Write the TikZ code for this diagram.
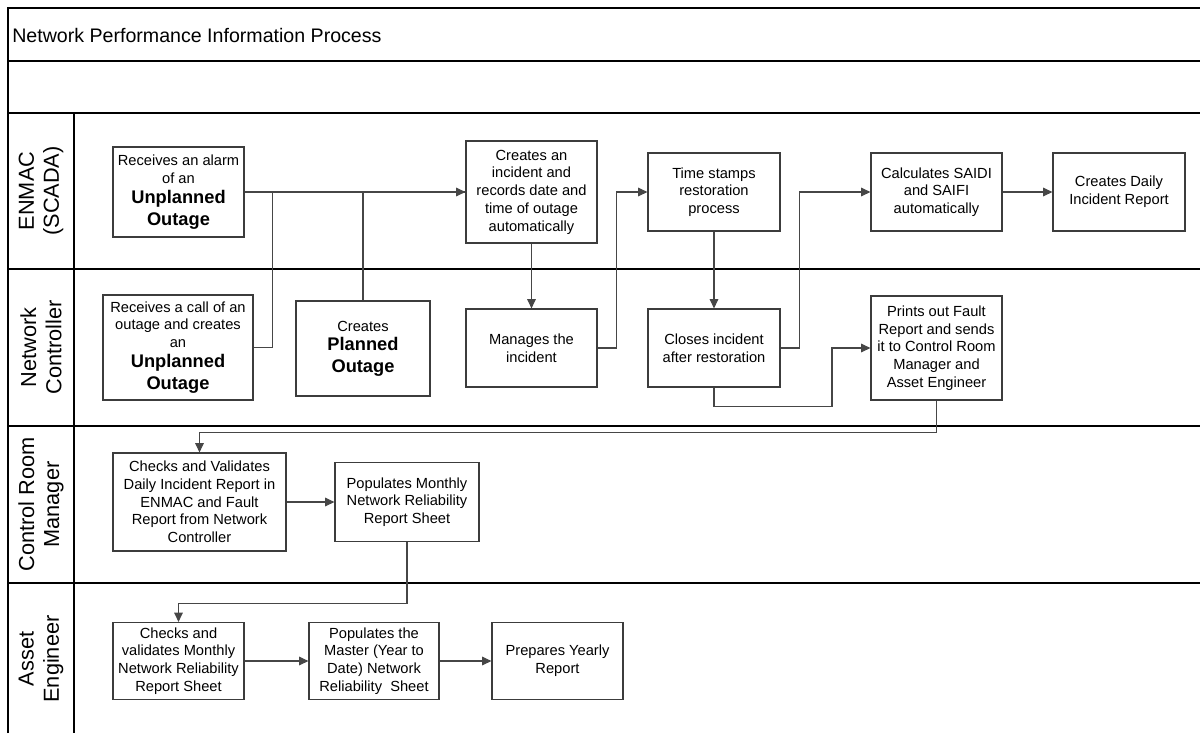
\documentclass[tikz,border=0pt]{standalone}
\usepackage{fontspec}
\setmainfont{Liberation Sans}
\usepackage{xcolor}
\usetikzlibrary{arrows.meta}

\definecolor{boxline}{RGB}{60,60,60}
\definecolor{flowline}{RGB}{70,70,70}
\newcommand{\outbold}{\bfseries\fontsize{13.7}{15.8}\selectfont}

\tikzset{
  frame/.style={draw=black, line width=1.1pt},
  procbox/.style={draw=boxline, line width=0.9pt, fill=white, align=center, inner sep=0pt,
    font=\fontsize{11}{13.3}\selectfont},
  boxdim/.style 2 args={minimum width=#1*0.75pt, minimum height=#2*0.75pt},
  lanelabel/.style={rotate=90, align=center, inner sep=0pt, font=\fontsize{16.3}{18.8}\selectfont},
  link/.style={draw=flowline, line width=0.8pt},
  flow/.style={link, -{Triangle[length=7pt,width=6.5pt]}}
}

\begin{document}
\begin{tikzpicture}[x=0.75pt,y=0.75pt,yscale=-1,xscale=1]
\useasboundingbox (0,0) rectangle (1200,733);

%Shape: Pool frame
\draw [frame] (8,733) -- (8,8) -- (1200,8) ;
\draw [frame] (8,61) -- (1200,61) ;
\draw [frame] (8,113) -- (1200,113) ;
\draw [frame] (8,269) -- (1200,269) ;
\draw [frame] (8,426) -- (1200,426) ;
\draw [frame] (8,583) -- (1200,583) ;
\draw [frame] (74,113) -- (74,733) ;

% Text Node
\node (title) [anchor=west, inner sep=0pt, font=\fontsize{14.7}{17}\selectfont] at (12,35) {Network Performance Information Process};
\node (laneEnmac) [lanelabel] at (41,191) {ENMAC\\(SCADA)};
\node (laneNc) [lanelabel] at (41,347.5) {Network\\Controller};
\node (laneCrm) [lanelabel] at (41,504.5) {Control Room\\Manager};
\node (laneAe) [lanelabel] at (41,659) {Asset\\Engineer};

%Shape: ENMAC lane
\node (enmacAlarm) [procbox, boxdim={131}{90}] at (178.5,192) {Receives an alarm\\of an\\[2pt]\outbold Unplanned\\[3pt]\outbold Outage};
\node (enmacIncident) [procbox, boxdim={131}{102}] at (531.5,192) {Creates an\\incident and\\records date and\\time of outage\\automatically};
\node (enmacStamp) [procbox, boxdim={132}{78}] at (714,192) {Time stamps\\restoration\\process};
\node (enmacCalc) [procbox, boxdim={131}{78}] at (936.5,192) {Calculates SAIDI\\and SAIFI\\automatically};
\node (enmacDaily) [procbox, boxdim={132}{78}] at (1119,192) {Creates Daily\\Incident Report};

%Shape: Network Controller lane
\node (ncCall) [procbox, boxdim={150}{105}] at (178,347.5) {Receives a call of an\\outage and creates\\an\\[2pt]\outbold Unplanned\\[3pt]\outbold Outage};
\node (ncPlanned) [procbox, boxdim={134}{95}] at (363,348.5) {Creates\\[1pt]\outbold Planned\\[3pt]\outbold Outage};
\node (ncManage) [procbox, boxdim={131}{78}] at (531.5,348) {Manages the\\incident};
\node (ncClose) [procbox, boxdim={132}{78}] at (714,348) {Closes incident\\after restoration};
\node (ncPrint) [procbox, boxdim={131}{104}] at (936.5,348) {Prints out Fault\\Report and sends\\it to Control Room\\Manager and\\Asset Engineer};

%Shape: Control Room Manager lane
\node (crmCheck) [procbox, boxdim={173}{98}] at (199.5,502) {Checks and Validates\\Daily Incident Report in\\ENMAC and Fault\\Report from Network\\Controller};
\node (crmMonthly) [procbox, boxdim={144}{79}] at (407,502) {Populates Monthly\\Network Reliability\\Report Sheet};

%Shape: Asset Engineer lane
\node (aeCheck) [procbox, boxdim={131}{77}] at (178.5,661) {Checks and\\validates Monthly\\Network Reliability\\Report Sheet};
\node (aeMaster) [procbox, boxdim={130}{77}] at (374,661) {Populates the\\Master (Year to\\Date) Network\\Reliability\ \ Sheet};
\node (aeYearly) [procbox, boxdim={131}{77}] at (557.5,661) {Prepares Yearly\\Report};

%Straight Lines
\draw [flow] (enmacAlarm.east) -- (enmacIncident.west) ;
\draw [link] (ncCall.east) -- ++(19,0) |- (enmacIncident.west) ;
\draw [link] (ncPlanned.north) |- (enmacIncident.west) ;
\draw [flow] (enmacIncident.south) -- (ncManage.north) ;
\draw [flow] (ncManage.east) -- ++(19,0) |- (enmacStamp.west) ;
\draw [flow] (enmacStamp.south) -- (ncClose.north) ;
\draw [flow] (ncClose.east) -- ++(19,0) |- (enmacCalc.west) ;
\draw [flow] (enmacCalc.east) -- (enmacDaily.west) ;
\draw [flow] (ncClose.south) |- ++(118,19) |- (ncPrint.west) ;
\draw [flow] (ncPrint.south) -- ++(0,32) -| (crmCheck.north) ;
\draw [flow] (crmCheck.east) -- (crmMonthly.west) ;
\draw [flow] (crmMonthly.south) -- ++(0,61) -| (aeCheck.north) ;
\draw [flow] (aeCheck.east) -- (aeMaster.west) ;
\draw [flow] (aeMaster.east) -- (aeYearly.west) ;

\end{tikzpicture}
\end{document}
